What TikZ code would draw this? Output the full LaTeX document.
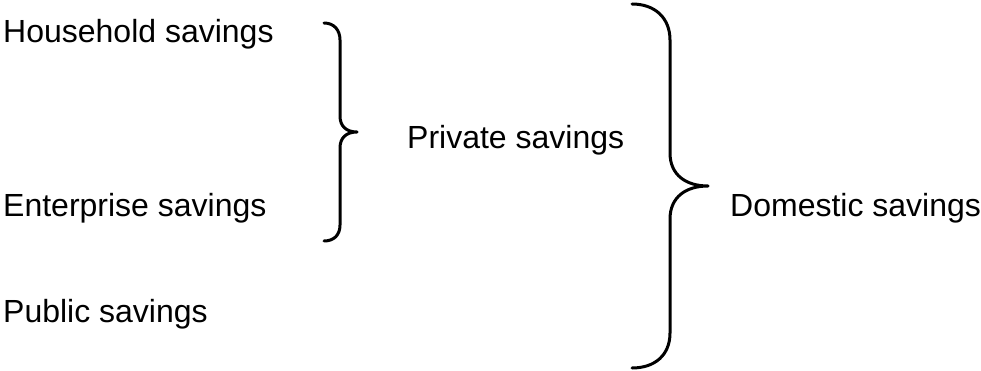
\documentclass[tikz,border=0pt]{standalone}
\usepackage{fontspec}
\setmainfont{Liberation Sans}
\definecolor{savInk}{HTML}{000000}
\tikzset{
  sav label/.style={font=\fontsize{32}{38}\selectfont, text=savInk, anchor=base west, inner sep=0pt},
  sav brace/.style={draw=savInk, line width=3pt, line cap=round, line join=round},
}

\begin{document}
\begin{tikzpicture}[x=1pt, y=-1pt]
  \useasboundingbox (0,0) rectangle (981,371);
  % Left column of parts
  \node[sav label] (household) at (3,43) {Household savings};
  \node[sav label] (enterprise) at (3,217) {Enterprise savings};
  \node[sav label] (public) at (3,322) {Public savings};
  % Sums
  \node[sav label] (private) at (407,149) {Private savings};
  \node[sav label] (domestic) at (730,216) {Domestic savings};
  % Small brace round the first two
  \draw[sav brace] (324,23) .. controls (334,23) and (340,30) .. (340,40)
    -- (340,116) .. controls (340,126) and (346,132) .. (357,132)
    .. controls (346,132) and (340,138) .. (340,148)
    -- (340,225) .. controls (340,235) and (334,241) .. (324,241);
  % Large brace round all of it
  \draw[sav brace] (632,4) .. controls (655,4) and (670,18) .. (670,40)
    -- (670,153) .. controls (670,175) and (686,186) .. (708,186)
    .. controls (686,186) and (670,197) .. (670,219)
    -- (670,333) .. controls (670,355) and (655,368) .. (632,368);
\end{tikzpicture}
\end{document}
